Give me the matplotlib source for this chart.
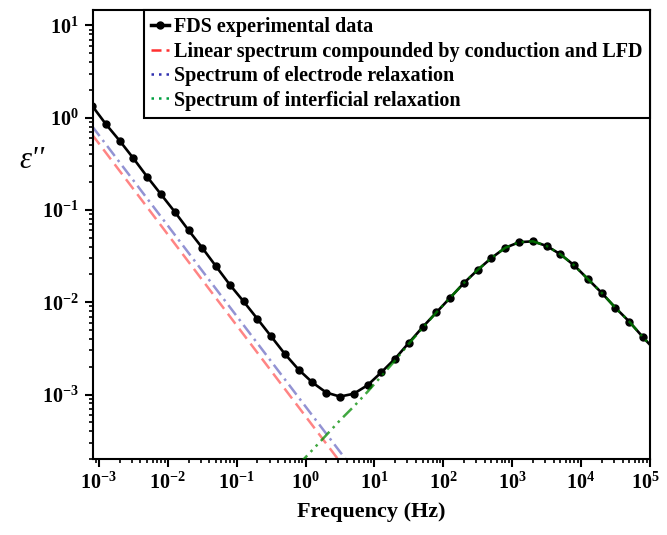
import numpy as np
import matplotlib
matplotlib.use('Agg')
import matplotlib.pyplot as plt
import matplotlib.transforms as mtransforms
from matplotlib.lines import Line2D
from matplotlib.ticker import LogLocator, NullFormatter

plt.rcParams['font.family'] = 'Liberation Serif'
plt.rcParams['font.weight'] = 'bold'
plt.rcParams['mathtext.fontset'] = 'custom'
plt.rcParams['mathtext.rm'] = 'Liberation Serif:bold'
plt.rcParams['mathtext.bf'] = 'Liberation Serif:bold'
plt.rcParams['mathtext.it'] = 'Liberation Serif:italic'

# measured FDS data, 5 points per decade
freq = [7.94e-4, 1.26e-3, 2.00e-3, 3.16e-3, 5.01e-3,
        7.94e-3, 1.26e-2, 2.00e-2, 3.16e-2, 5.01e-2,
        7.94e-2, 1.26e-1, 2.00e-1, 3.16e-1, 5.01e-1,
        7.94e-1, 1.26, 2.00, 3.16, 5.01,
        7.94, 12.6, 20.0, 31.6, 50.1,
        79.4, 126, 200, 316, 501,
        794, 1260, 2000, 3160, 5010,
        7940, 12600, 20000, 31600, 50100,
        79400, 126000]
eps_exp = [1.35, 0.851, 0.562, 0.363, 0.229,
           0.148, 0.0955, 0.0603, 0.0389, 0.0245,
           0.0155, 0.0102, 0.0066, 0.00427, 0.00275,
           0.00186, 0.00135, 0.00105, 0.00095, 0.00102,
           0.00126, 0.00174, 0.00245, 0.00363, 0.00537,
           0.00776, 0.0112, 0.0162, 0.0224, 0.0302,
           0.0389, 0.0447, 0.0457, 0.0407, 0.0331,
           0.0251, 0.0178, 0.0126, 0.0087, 0.00617,
           0.00417, 0.00288]

# conduction + LFD component
freq_lin = [7.94e-4, 1e-3, 1e-2, 1e-1, 1, 10]
eps_lin = [0.658, 0.524, 0.0542, 0.00561, 5.81e-4, 6.0e-5]

# electrode relaxation component
freq_el = [7.94e-4, 1e-3, 1e-2, 1e-1, 1, 10]
eps_el = [0.809, 0.646, 0.0676, 0.00708, 7.41e-4, 7.76e-5]

# interfacial relaxation component
freq_if = [0.794, 1.26, 2.00, 3.16, 5.01,
           7.94, 12.6, 20.0, 31.6, 50.1,
           79.4, 126, 200, 316, 501,
           794, 1260, 2000, 3160, 5010,
           7940, 12600, 20000, 31600, 50100,
           79400, 126000]
eps_if = [1.74e-4, 2.51e-4, 3.63e-4, 5.25e-4, 7.41e-4,
          1.07e-3, 1.58e-3, 2.34e-3, 3.55e-3, 5.25e-3,
          7.76e-3, 0.0112, 0.0162, 0.0224, 0.0302,
          0.0389, 0.0447, 0.0457, 0.0407, 0.0331,
          0.0251, 0.0178, 0.0126, 0.0087, 0.00617,
          0.00417, 0.00288]

x_ticks = [1e-3, 1e-2, 1e-1, 1, 10, 100, 1e3, 1e4, 1e5]
y_ticks = [1e-3, 1e-2, 1e-1, 1, 10]

fig = plt.figure(figsize=(6.67, 5.35), dpi=100)
ax = fig.add_axes([0.1394, 0.142, 0.835, 0.839])

ax.plot(freq_lin, eps_lin, color='#ff2020', alpha=0.55, lw=1.8, ls=(0, (5, 2.5)), zorder=2)
ax.plot(freq_el, eps_el, color='#3a3ab0', alpha=0.55, lw=1.8, ls=(0, (5, 2, 1, 2)), zorder=2)
ax.plot(freq, eps_exp, color='black', lw=1.9, marker='o', ms=5, zorder=3)
ax.plot(freq_if, eps_if, color='#008a00', alpha=0.75, lw=1.8, ls=(0, (5, 2, 1, 2, 1, 2)), zorder=4)

ax.set_xscale('log')
ax.set_yscale('log')
ax.set_xlim(8.2e-4, 1e5)
ax.set_ylim(2.0e-4, 14.6)

ax.set_xticks(x_ticks)
ax.set_yticks(y_ticks)
ax.xaxis.set_minor_locator(LogLocator(base=10, subs=np.arange(2, 10), numticks=20))
ax.yaxis.set_minor_locator(LogLocator(base=10, subs=np.arange(2, 10), numticks=20))
ax.xaxis.set_minor_formatter(NullFormatter())
ax.yaxis.set_minor_formatter(NullFormatter())

ax.tick_params(which='major', direction='out', length=6, width=1.5, labelsize=14.5, pad=4)
ax.tick_params(which='minor', direction='out', length=3, width=1.2)
for s in ax.spines.values():
    s.set_linewidth(1.5)

# nudge the 10^5 label so it stays inside the figure
fig.canvas.draw()
for t in ax.xaxis.get_major_ticks():
    if abs(t.get_loc() - 1e5) < 1:
        t.label1.set_transform(t.label1.get_transform()
                               + mtransforms.ScaledTranslation(-3 / 72, 0, fig.dpi_scale_trans))

ax.set_xlabel('Frequency (Hz)', fontsize=16, fontweight='bold', labelpad=6)
ax.set_ylabel("ε''", fontsize=22, fontweight='normal', fontstyle='italic', rotation=0, va='center')
ax.yaxis.set_label_coords(-0.11, 0.666)

handles = [
    Line2D([], [], color='black', lw=2.5, marker='o', ms=5),
    Line2D([], [], color='#ff3030', lw=1.8, ls=(0, (4, 2))),
    Line2D([], [], color='#3030b0', lw=1.8, ls=(0, (1, 2))),
    Line2D([], [], color='#00a040', lw=1.8, ls=(0, (1, 2))),
]
labels = ['FDS experimental data',
          'Linear spectrum compounded by conduction and LFD',
          'Spectrum of electrode relaxation',
          'Spectrum of interficial relaxation']
leg = ax.legend(handles, labels, loc='upper right', bbox_to_anchor=(1, 1), borderaxespad=0,
                prop={'size': 14.5, 'weight': 'bold'}, handlelength=0.9, handletextpad=0.25,
                labelspacing=0.22, borderpad=0.35, fancybox=False, framealpha=1)
leg.get_frame().set_edgecolor('black')
leg.get_frame().set_linewidth(1.5)

fig.savefig('out.png', dpi=100)
